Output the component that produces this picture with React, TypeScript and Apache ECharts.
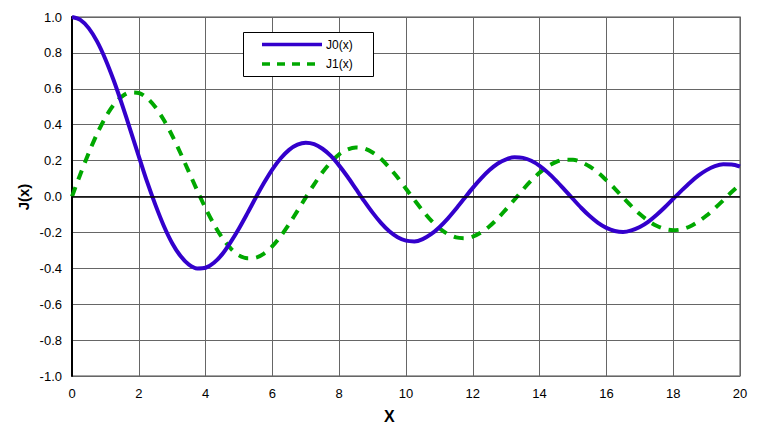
import React, { useEffect, useRef } from "react";
import * as echarts from "echarts";

const xs = [0,0.25,0.5,0.75,1,1.25,1.5,1.75,2,2.25,2.5,2.75,3,3.25,3.5,3.75,4,4.25,4.5,4.75,5,5.25,5.5,5.75,6,6.25,6.5,6.75,7,7.25,7.5,7.75,8,8.25,8.5,8.75,9,9.25,9.5,9.75,10,10.25,10.5,10.75,11,11.25,11.5,11.75,12,12.25,12.5,12.75,13,13.25,13.5,13.75,14,14.25,14.5,14.75,15,15.25,15.5,15.75,16,16.25,16.5,16.75,17,17.25,17.5,17.75,18,18.25,18.5,18.75,19,19.25,19.5,19.75,20];
const j0 = [1.0,0.984,0.938,0.864,0.765,0.646,0.512,0.369,0.224,0.081,-0.048,-0.164,-0.26,-0.332,-0.38,-0.401,-0.397,-0.369,-0.321,-0.254,-0.178,-0.094,-0.007,0.076,0.151,0.213,0.26,0.289,0.3,0.292,0.266,0.226,0.172,0.11,0.042,-0.026,-0.09,-0.147,-0.194,-0.227,-0.246,-0.25,-0.237,-0.21,-0.171,-0.123,-0.068,-0.01,0.048,0.101,0.147,0.184,0.207,0.218,0.215,0.199,0.171,0.133,0.087,0.037,-0.014,-0.064,-0.109,-0.147,-0.175,-0.192,-0.198,-0.189,-0.17,-0.141,-0.103,-0.06,-0.013,0.033,0.077,0.116,0.147,0.169,0.179,0.178,0.167];
const j1 = [0,0.124,0.242,0.349,0.44,0.511,0.558,0.58,0.577,0.548,0.497,0.426,0.339,0.241,0.137,0.033,-0.066,-0.155,-0.231,-0.289,-0.328,-0.344,-0.341,-0.318,-0.277,-0.221,-0.154,-0.08,-0.005,0.068,0.135,0.191,0.235,0.262,0.273,0.267,0.245,0.21,0.161,0.106,0.043,-0.019,-0.079,-0.133,-0.177,-0.209,-0.228,-0.232,-0.223,-0.2,-0.166,-0.122,-0.07,-0.017,0.038,0.089,0.133,0.169,0.193,0.205,0.205,0.192,0.167,0.133,0.09,0.044,-0.006,-0.054,-0.098,-0.135,-0.163,-0.181,-0.188,-0.183,-0.167,-0.14,-0.106,-0.065,-0.021,0.025,0.067];
const seriesNames = ["J0(x)", "J1(x)"];
const xTitle = "X";
const yTitle = "J(x)";

const BLUE = "#3300cc";
const GREEN = "#00a800";

export default function App() {
  const ref = useRef<HTMLDivElement>(null);
  useEffect(() => {
    const chart = echarts.init(ref.current!, null, { renderer: "svg" });
    const font = "Arial, 'Liberation Sans', sans-serif";
    chart.setOption({
      animation: false,
      backgroundColor: "#fff",
      grid: { left: 72, right: 28, top: 17, bottom: 56, show: true, borderColor: "#888", borderWidth: 1.5 },
      xAxis: {
        type: "value", min: 0, max: 20, interval: 2,
        axisLine: { show: false, onZero: false },
        axisTick: { show: false },
        axisLabel: { fontFamily: font, fontSize: 13, color: "#000", margin: 11 },
        splitLine: { show: true, lineStyle: { color: "#666", width: 1 } },
      },
      yAxis: {
        type: "value", min: -1, max: 1, interval: 0.2,
        axisLine: { show: true, onZero: false, lineStyle: { color: "#000", width: 2 } },
        axisTick: { show: false },
        axisLabel: { fontFamily: font, fontSize: 13, color: "#000", margin: 10, formatter: (v: number) => v.toFixed(1) },
        splitLine: { show: true, lineStyle: { color: "#666", width: 1 } },
      },
      graphic: [
        { type: "text", left: 384, top: 408, style: { text: xTitle, font: `bold 16px ${font}`, fill: "#000" } },
        { type: "text", x: 23, y: 197, rotation: Math.PI / 2, style: { text: yTitle, font: `bold 15px ${font}`, fill: "#000", align: "center", verticalAlign: "middle" } },
        { type: "rect", shape: { x: 243.5, y: 32.5, width: 130, height: 44 }, style: { fill: "#fff", stroke: "#000", lineWidth: 1 }, z: 100 },
        { type: "line", shape: { x1: 262, y1: 44.5, x2: 322, y2: 44.5 }, style: { stroke: BLUE, lineWidth: 3.5 }, z: 101 },
        { type: "line", shape: { x1: 262, y1: 64, x2: 317, y2: 64 }, style: { stroke: GREEN, lineWidth: 3.5, lineDash: [8, 7] }, z: 101 },
        { type: "text", x: 326, y: 44.5, style: { text: seriesNames[0], font: `12px ${font}`, fill: "#000", verticalAlign: "middle" }, z: 101 },
        { type: "text", x: 326, y: 64, style: { text: seriesNames[1], font: `12px ${font}`, fill: "#000", verticalAlign: "middle" }, z: 101 },
      ],
      series: [
        {
          name: seriesNames[0], type: "line", smooth: 0.3, symbol: "none",
          data: xs.map((x, i) => [x, j0[i]]),
          lineStyle: { color: BLUE, width: 4 }, itemStyle: { color: BLUE },
          z: 3,
          markLine: {
            silent: true, symbol: "none", label: { show: false },
            lineStyle: { color: "#000", width: 1.5, type: "solid" },
            data: [{ yAxis: 0 }],
          },
        },
        {
          name: seriesNames[1], type: "line", smooth: 0.3, symbol: "none",
          data: xs.map((x, i) => [x, j1[i]]),
          lineStyle: { color: GREEN, width: 4, type: [10, 8] }, itemStyle: { color: GREEN },
          z: 2,
        },
      ],
    });
    return () => chart.dispose();
  }, []);
  return <div ref={ref} style={{ width: 768, height: 432, position: "absolute", left: 0, top: 0 }} />;
}
